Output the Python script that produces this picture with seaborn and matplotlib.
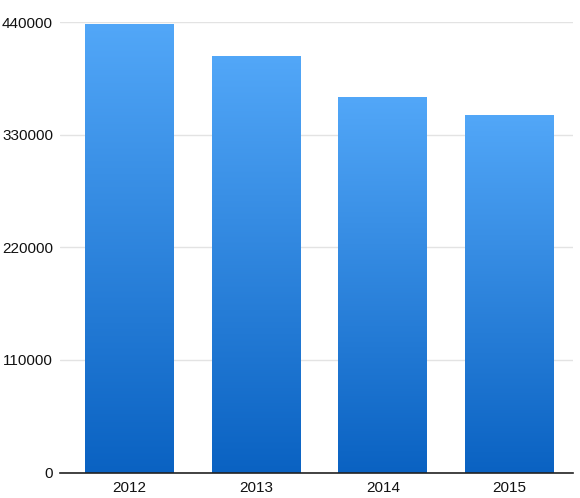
import matplotlib
matplotlib.use("Agg")
import matplotlib.pyplot as plt
import seaborn as sns
import numpy as np
import pandas as pd
from matplotlib.colors import LinearSegmentedColormap

years = ["2012", "2013", "2014", "2015"]
values = [438000, 407000, 367000, 349000]
yticks = [0, 110000, 220000, 330000, 440000]

sns.set_theme(style="white")
plt.rcParams['font.family'] = ['Liberation Sans', 'DejaVu Sans']

fig = plt.figure(figsize=(5.8, 4.98), dpi=100)
ax = fig.add_axes([60/580, 1 - 472.5/498, (573-60)/580, (472.5-22)/498])

df = pd.DataFrame({"year": years, "value": values})
sns.barplot(data=df, x="year", y="value", color="#3a8ee8", width=0.7, ax=ax, zorder=2)

cmap = LinearSegmentedColormap.from_list("g", ["#0a62c2", "#52a7f8"])
grad = np.linspace(0, 1, 256).reshape(-1, 1)
for p in ax.patches:
    x0, y0 = p.get_x(), p.get_y()
    w, h = p.get_width(), p.get_height()
    im = ax.imshow(grad, cmap=cmap, aspect="auto", origin="lower",
                   extent=[x0, x0 + w, y0, y0 + h], zorder=3)
    im.set_clip_path(p)
    p.set_facecolor("none")
    p.set_edgecolor("none")

ax.set_xlim(-0.545, 3.50)
ax.set_ylim(0, 440000)
ax.set_yticks(yticks)
ax.set_yticklabels([str(v) for v in yticks], fontsize=11, color="#111111")
ax.tick_params(axis="x", labelsize=11, colors="#111111", length=0, pad=6)
ax.tick_params(axis="y", length=0, pad=5)
ax.yaxis.grid(True, color="#e3e3e3", linewidth=1, zorder=0)
ax.set_axisbelow(True)
ax.set_xlabel("")
ax.set_ylabel("")
for s in ["top", "right", "left"]:
    ax.spines[s].set_visible(False)
ax.spines["bottom"].set_color("#222222")
ax.spines["bottom"].set_linewidth(1.2)
ax.spines["bottom"].set_zorder(5)

fig.savefig("out.png", dpi=100)
